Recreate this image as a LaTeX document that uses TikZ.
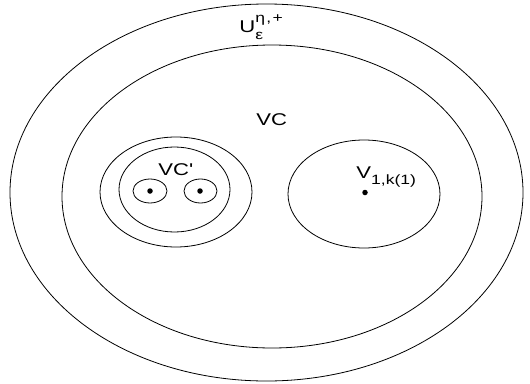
\documentclass[tikz,border=0pt]{standalone}
\usepackage{graphicx}
\usepackage{fontspec}
\setmainfont{Liberation Sans}
\newcommand\widetxt[1]{\scalebox{1.3}[1]{#1}}
\newcommand\subsz{\fontsize{13.5}{15}\selectfont}
\begin{document}
\begin{tikzpicture}[x=1pt,y=-1pt,line width=0.8pt,
  dot/.style={circle,fill=black,inner sep=0pt,minimum size=5.5pt},
  lbl/.style={inner sep=0pt,anchor=base west,font=\fontsize{17}{20}\selectfont}]
\useasboundingbox (0,0) rectangle (530,383);
% outer set
\draw (266.5,192.5) ellipse (256.5 and 188.5);
% VC
\draw (272,196.5) ellipse (210 and 151.5);
% left group
\draw (176,192) ellipse (76 and 55);
\draw (174.5,189.5) ellipse (55.5 and 42.5);
\draw (150,191) ellipse (17 and 12);
\draw (200.5,191) ellipse (16.5 and 12);
\node[dot] (d1) at (150,191) {};
\node[dot] (d2) at (200,191) {};
% right group
\draw (364,194) ellipse (76 and 54);
\node[dot] (d3) at (365,192.5) {};
% labels
\node[lbl] (U) at (239,32) {\widetxt{U\rlap{\raisebox{-7pt}{\subsz ε}}\raisebox{10pt}{\subsz η\kern1pt,\kern1pt+}}};
\node[lbl] (VC) at (256,125) {\widetxt{VC}};
\node[lbl] (VCp) at (158,175) {\widetxt{VC\textquotesingle}};
\node[lbl] (V) at (356,178) {\widetxt{V\raisebox{-6pt}{\subsz 1,k(1)}}};
\end{tikzpicture}
\end{document}
